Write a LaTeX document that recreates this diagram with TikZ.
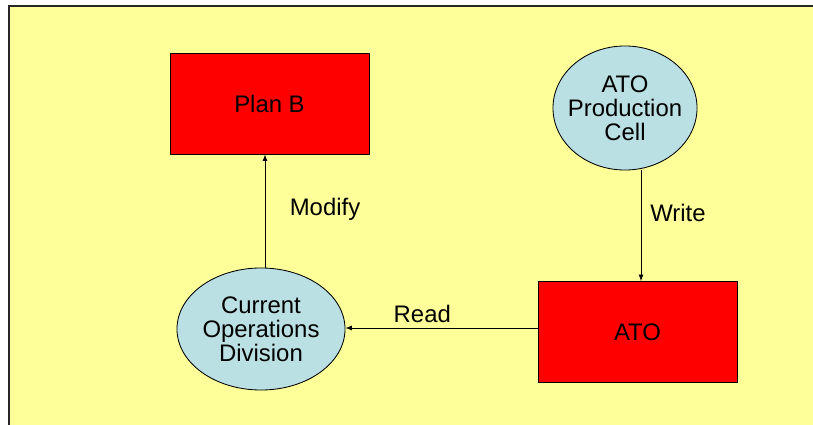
\documentclass[tikz,border=0pt]{standalone}
\usepackage{fontspec}
\setmainfont{Liberation Sans}
\usetikzlibrary{shapes.geometric}
\definecolor{bgyellow}{RGB}{255,255,153}
\definecolor{cellblue}{RGB}{186,224,227}
\tikzset{
  redbox/.style={draw=black, fill=red, minimum width=4.975cm, minimum height=2.525cm, inner sep=0pt},
  cell/.style={ellipse, draw=black, fill=cellblue, align=center, inner sep=0pt},
  lbl/.style={font=\fontsize{17}{17}\selectfont}
}
\begin{document}
\begin{tikzpicture}[x=0.025cm, y=-0.025cm, font=\fontsize{17}{17}\selectfont, line width=0.6pt]
		    \useasboundingbox (0,0) rectangle (813,425);
		    \fill[white] (0,0) rectangle (813,425);
		    \fill[bgyellow] (9,6) rectangle (813,425);
		    \draw[line width=1pt, black!85] (9,425)--(9,6)--(813,6);
		    \node[redbox] (planb) at (269.5,103.5) {Plan B};
		    \node[redbox] (ato) at (637.5,332) {ATO};
		    \node[cell, inner xsep=-7pt, minimum width=3.6cm, minimum height=3.1cm] (cell) at (625,108) {ATO\\Production\\Cell};
		    \node[cell, minimum width=4.2cm, minimum height=3.05cm] (cod) at (261,329) {Current\\Operations\\Division};
		    \coordinate (w1) at (641,170);
		    \coordinate (m1) at (265,268);
		    \draw[-latex] (w1)--(w1 |- ato.north)node[pos=.39, right=3pt, lbl]{Write};
		    \draw[-latex] (m1)--(m1 |- planb.south)node[pos=.52, right=14pt, lbl]{Modify};
		    \draw[-latex] (ato.west |- 0,328)--(cod.east |- 0,328)node[pos=.6, above=0pt, lbl]{Read};
		\end{tikzpicture}
\end{document}
